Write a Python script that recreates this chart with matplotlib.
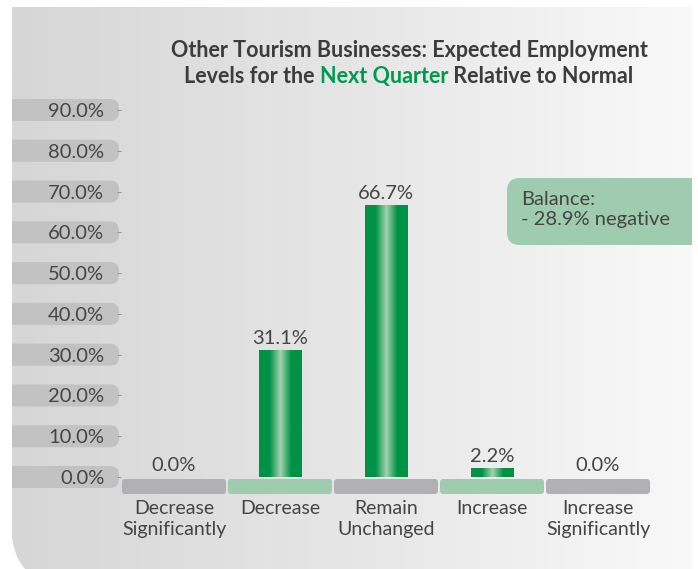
import numpy as np
import matplotlib
matplotlib.use("Agg")
import matplotlib.pyplot as plt
from matplotlib.patches import FancyBboxPatch, PathPatch
from matplotlib.path import Path
from matplotlib.colors import LinearSegmentedColormap

categories = ["Decrease\nSignificantly", "Decrease", "Remain\nUnchanged",
              "Increase", "Increase\nSignificantly"]
shares = [0.0, 31.1, 66.7, 2.2, 0.0]
yticks = [0, 10, 20, 30, 40, 50, 60, 70, 80, 90]
balance = -28.9

W, H = 698, 569
DARK = "#009245"
LIGHT = "#a3d2b0"
TXT = "#454545"
plt.rcParams["font.family"] = ["Lato", "DejaVu Sans"]

fig = plt.figure(figsize=(W / 100, H / 100), dpi=100)

# full-figure axes in pixel units (y down) for the panel and decorations
bg = fig.add_axes([0, 0, 1, 1])
bg.set_xlim(0, W)
bg.set_ylim(H, 0)
bg.axis("off")

# grey panel, square top corners, rounded bottom-left
r, k = 56, 0.5523
x0, y0, x1, y1 = 12, 7, 692, 533 + r
verts = [(x0, y0), (x1, y0), (x1, y1), (x0 + r, y1),
         (x0 + r - k * r, y1), (x0, y1 - r + k * r), (x0, y1 - r),
         (x0, y0)]
codes = [Path.MOVETO, Path.LINETO, Path.LINETO, Path.LINETO,
         Path.CURVE4, Path.CURVE4, Path.CURVE4, Path.CLOSEPOLY]
panel = PathPatch(Path(verts, codes), facecolor="none", edgecolor="none")
bg.add_patch(panel)
grad = np.linspace(0, 1, 256)[None, :]
panel_cmap = LinearSegmentedColormap.from_list("panel", ["#d6d6d6", "#e6e6e6", "#f9f9f9"])
im = bg.imshow(grad, cmap=panel_cmap, extent=[x0, x1, y1, y0], aspect="auto", zorder=0)
im.set_clip_path(panel)
bg.set_xlim(0, W)
bg.set_ylim(H, 0)

# main plotting axes
ax = fig.add_axes([121 / W, 1 - 477 / H, (651 - 121) / W, (477 - 110) / H])
ax.patch.set_alpha(0)
xs = np.arange(len(categories))
ax.set_xlim(-0.5, len(categories) - 0.5)
ax.set_ylim(0, 90)
for s in ax.spines.values():
    s.set_visible(False)
ax.set_xticks([])
ax.set_yticks(yticks)
ax.set_yticklabels([f"{v:.1f}%" for v in yticks], fontsize=14.5, color=TXT)
ax.tick_params(axis="y", length=3, width=0.6, color="#8a8a8a", pad=9)

# bars with a horizontal green sheen
bar_cmap = LinearSegmentedColormap.from_list(
    "bar", [DARK, DARK, LIGHT, DARK, DARK], N=256)
bars = ax.bar(xs, shares, width=0.4, color="none", edgecolor="none")
for b in bars:
    if b.get_height() <= 0:
        continue
    g = ax.imshow(grad, cmap=bar_cmap, aspect="auto", zorder=2,
                  extent=[b.get_x(), b.get_x() + b.get_width(), 0, b.get_height()])
    g.set_clip_path(b)
ax.set_xlim(-0.5, len(categories) - 0.5)
ax.set_ylim(0, 90)

for x, v in zip(xs, shares):
    ax.annotate(f"{v:.1f}%", (x, v), xytext=(0, 2.5), textcoords="offset points",
                ha="center", va="bottom", fontsize=14.5, color=TXT)

fig.canvas.draw()
to_px = lambda xd, yd: ax.transData.transform((xd, yd))

# rounded pills behind the y tick labels
for v in yticks:
    py = H - to_px(0, v)[1]
    pill = FancyBboxPatch((-10, py - 11), 129, 22,
                          boxstyle="round,pad=0,rounding_size=9",
                          facecolor="#c2c2c2", edgecolor="none", zorder=1)
    bg.add_patch(pill)
    pill.set_clip_path(panel)

# alternating category band under the bars
for i in xs:
    left = to_px(i - 0.5, 0)[0]
    right = to_px(i + 0.5, 0)[0]
    band = FancyBboxPatch((left + 1, 479), right - left - 2, 15,
                          boxstyle="round,pad=0,rounding_size=3",
                          facecolor="#b1b1b5" if i % 2 == 0 else "#9fcbae",
                          edgecolor="none", zorder=1)
    bg.add_patch(band)

for x, c in zip(xs, categories):
    ax.text(x, -0.064, c, transform=ax.get_xaxis_transform(), ha="center",
            va="top", fontsize=14, color=TXT, linespacing=1.22)

# balance call-out
box = FancyBboxPatch((507, 178), 220, 67, boxstyle="round,pad=0,rounding_size=13",
                     facecolor="#9fcbae", edgecolor="none", zorder=1)
bg.add_patch(box)
box.set_clip_path(panel)
bg.text(521, 191, f"Balance:\n- {abs(balance):.1f}% negative", ha="left", va="top",
        fontsize=14.5, color=TXT, linespacing=1.22)

# two-line title with a green highlight
tfont = dict(fontsize=15.5, fontweight="bold")
bg.text(409, 50, "Other Tourism Businesses: Expected Employment", ha="center",
        va="center", color="#3c3c3c", **tfont)
parts = [("Levels for the ", "#3c3c3c"), ("Next Quarter", "#009a4e"),
         (" Relative to Normal", "#3c3c3c")]
rend = fig.canvas.get_renderer()
widths = []
for s, col in parts:
    t = bg.text(0, 0, s, **tfont)
    widths.append(t.get_window_extent(rend).width)
    t.remove()
px = 409 - sum(widths) / 2
for (s, col), w in zip(parts, widths):
    bg.text(px, 76, s, ha="left", va="center", color=col, **tfont)
    px += w

fig.savefig("out.png", dpi=100)
